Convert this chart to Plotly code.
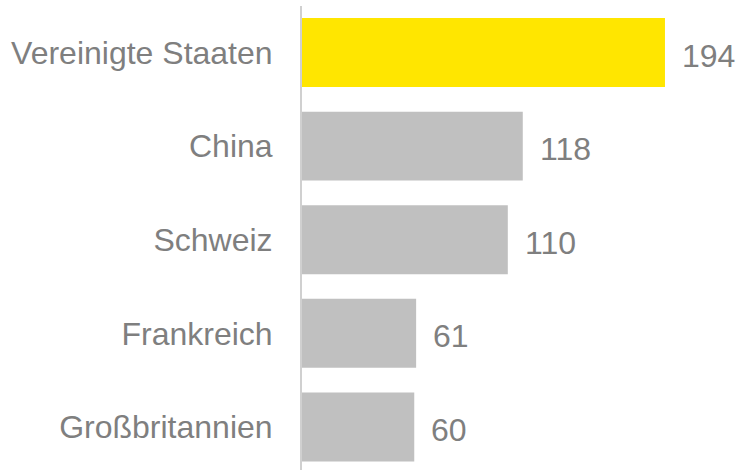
import plotly.graph_objects as go

categories = ["Vereinigte Staaten", "China", "Schweiz", "Frankreich", "Großbritannien"]
values = [194, 118, 110, 61, 60]
colors = ["#FFE600", "#C0C0C0", "#C0C0C0", "#C0C0C0", "#C0C0C0"]

# bottom-to-top order for plotting
cats_plot = categories[::-1]
vals_plot = values[::-1]
cols_plot = colors[::-1]

font = dict(family="Liberation Sans, Arial, sans-serif", size=32, color="#7f7f7f")

fig = go.Figure(go.Bar(
    x=vals_plot, y=cats_plot, orientation="h",
    marker=dict(color=cols_plot, line=dict(width=0)),
    width=0.737, hoverinfo="skip",
))

for c, v in zip(cats_plot, vals_plot):
    fig.add_annotation(x=v, y=c, text=str(v), showarrow=False, xanchor="left",
                       xshift=15, yshift=-3, font=font)

fig.update_layout(
    width=737, height=470,
    margin=dict(l=302, r=0, t=6, b=0),
    paper_bgcolor="white", plot_bgcolor="white",
    showlegend=False, font=font,
    xaxis=dict(range=[0, 232.5], showgrid=False, zeroline=False, showticklabels=False, visible=False),
    yaxis=dict(type="category", categoryorder="array", categoryarray=cats_plot,
               range=[-0.46, 4.497], showline=True, linecolor="#d0d0d0", linewidth=2,
               showgrid=False, ticks="outside", ticklen=21, tickcolor="rgba(0,0,0,0)",
               tickfont=font, automargin=False),
)

fig.write_html("out.html", config={"displayModeBar": False},
               post_script="document.body.style.margin='0';")
